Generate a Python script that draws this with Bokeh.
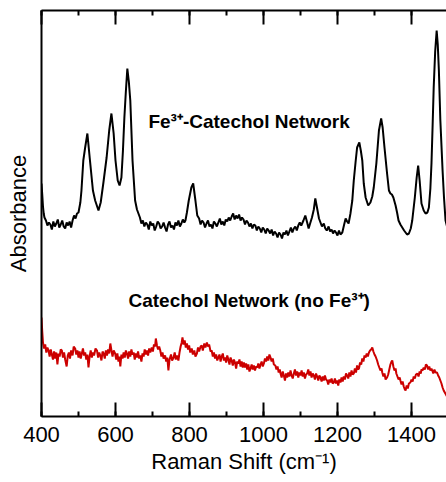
from bokeh.plotting import figure
from bokeh.models import Range1d, LinearAxis, Label, FixedTicker, SingleIntervalTicker
from bokeh.embed import file_html
from bokeh.resources import INLINE

# (Raman shift cm^-1, absorbance a.u.)
fe_points = [
    (400, 233), (402, 222), (404, 210), (406, 203), (408, 199), (412, 196), (416, 191), (420, 194),
    (424, 192), (428, 187), (432, 195), (436, 190), (440, 193), (444, 197), (448, 189), (452, 192),
    (456, 196), (460, 190), (464, 188), (468, 194), (472, 191), (476, 195), (480, 189), (484, 196),
    (488, 201), (492, 198), (496, 203), (500, 204), (505, 214), (508, 226), (513, 256), (518, 269),
    (524, 283), (531, 256), (539, 226), (545, 216), (554, 206), (560, 214), (567, 233), (576, 259),
    (583, 286), (589, 303), (595, 283), (600, 256), (606, 236), (611, 231), (616, 239), (620, 265),
    (624, 299), (628, 325), (632, 348), (636, 335), (640, 316), (646, 256), (653, 216), (658, 207),
    (662, 203), (666, 199), (670, 193), (674, 196), (678, 190), (682, 194), (686, 192), (690, 187),
    (694, 195), (698, 191), (702, 193), (706, 186), (710, 190), (714, 195), (718, 193), (722, 188),
    (726, 190), (730, 194), (734, 189), (738, 185), (742, 192), (746, 195), (750, 189), (754, 191),
    (758, 187), (762, 194), (766, 191), (770, 196), (774, 190), (778, 193), (782, 197), (786, 194),
    (789, 196), (793, 204), (798, 216), (805, 229), (810, 233), (816, 216), (821, 201), (826, 198),
    (830, 192), (834, 196), (838, 194), (842, 189), (846, 193), (850, 196), (854, 190), (858, 192),
    (862, 188), (866, 195), (870, 193), (874, 190), (878, 194), (882, 198), (886, 192), (890, 195),
    (894, 191), (898, 197), (902, 195), (906, 199), (910, 196), (914, 200), (918, 203), (922, 197),
    (926, 201), (930, 198), (934, 202), (938, 196), (942, 199), (946, 197), (950, 192), (954, 196),
    (958, 194), (962, 190), (966, 193), (970, 188), (974, 192), (978, 191), (982, 186), (986, 190),
    (990, 188), (994, 184), (998, 189), (1002, 187), (1006, 183), (1010, 188), (1014, 186),
    (1018, 183), (1022, 187), (1026, 181), (1030, 185), (1034, 183), (1038, 179), (1042, 184),
    (1046, 182), (1050, 178), (1054, 184), (1058, 182), (1062, 186), (1066, 181), (1070, 185),
    (1074, 189), (1078, 184), (1082, 188), (1086, 190), (1090, 186), (1094, 191), (1098, 194),
    (1102, 191), (1108, 196), (1113, 201), (1118, 194), (1122, 188), (1126, 193), (1131, 199),
    (1136, 207), (1140, 218), (1146, 206), (1150, 198), (1154, 194), (1158, 190), (1163, 193),
    (1167, 188), (1171, 186), (1176, 190), (1180, 185), (1184, 187), (1188, 183), (1192, 186),
    (1196, 184), (1200, 181), (1204, 186), (1208, 182), (1213, 184), (1218, 192), (1222, 198),
    (1226, 195), (1230, 193), (1235, 203), (1240, 216), (1244, 236), (1249, 255), (1253, 269),
    (1259, 274), (1263, 266), (1267, 256), (1271, 233), (1276, 219), (1283, 211), (1289, 214),
    (1294, 220), (1298, 229), (1305, 253), (1312, 286), (1318, 298), (1322, 289), (1327, 269),
    (1334, 243), (1339, 226), (1343, 223), (1347, 222), (1351, 219), (1357, 211), (1361, 204),
    (1365, 196), (1370, 192), (1375, 189), (1380, 186), (1384, 184), (1388, 182), (1393, 183),
    (1398, 188), (1402, 196), (1409, 219), (1414, 239), (1418, 251), (1422, 236), (1427, 213),
    (1433, 206), (1438, 203), (1443, 204), (1447, 209), (1451, 228), (1454, 253), (1457, 290),
    (1460, 329), (1464, 365), (1468, 386), (1471, 372), (1474, 346), (1478, 296), (1484, 246),
    (1488, 218), (1492, 196), (1496, 190), (1500, 188),
]

no_fe_points = [
    (400, 99), (402, 85), (404, 74), (407, 68), (410, 72), (413, 64), (416, 69), (419, 66),
    (422, 60), (425, 67), (428, 62), (431, 57), (434, 65), (437, 58), (440, 64), (443, 52),
    (446, 63), (449, 60), (452, 67), (455, 66), (458, 59), (461, 64), (464, 57), (468, 50),
    (471, 61), (474, 64), (477, 58), (480, 66), (484, 61), (487, 70), (491, 68), (494, 62),
    (497, 66), (500, 59), (503, 65), (506, 58), (509, 63), (512, 68), (515, 61), (518, 64),
    (521, 57), (524, 62), (527, 49), (530, 60), (533, 66), (536, 59), (539, 64), (542, 61),
    (546, 68), (550, 66), (553, 59), (556, 64), (559, 61), (562, 56), (565, 65), (568, 63),
    (571, 58), (574, 66), (577, 61), (580, 67), (583, 63), (586, 73), (589, 66), (592, 60),
    (595, 66), (599, 63), (602, 57), (605, 63), (608, 55), (611, 60), (613, 50), (616, 62),
    (619, 58), (622, 64), (625, 59), (628, 66), (631, 63), (634, 58), (637, 65), (640, 60),
    (643, 67), (646, 62), (649, 64), (652, 57), (655, 63), (658, 59), (661, 65), (664, 58),
    (667, 61), (670, 55), (673, 63), (676, 60), (679, 67), (682, 62), (685, 66), (688, 61),
    (691, 68), (694, 64), (698, 69), (701, 65), (704, 72), (707, 70), (709, 78), (712, 71),
    (715, 67), (718, 70), (721, 66), (724, 60), (727, 64), (730, 58), (734, 61), (737, 55),
    (740, 59), (743, 46), (746, 57), (750, 62), (753, 56), (757, 59), (760, 64), (763, 57),
    (766, 61), (770, 56), (773, 64), (776, 70), (779, 74), (781, 79), (784, 72), (787, 76),
    (790, 69), (793, 73), (796, 67), (799, 71), (802, 64), (806, 68), (809, 62), (813, 66),
    (816, 60), (820, 63), (823, 69), (826, 65), (830, 70), (833, 71), (836, 66), (840, 73),
    (843, 69), (847, 74), (850, 70), (853, 72), (857, 65), (860, 66), (863, 60), (866, 64),
    (869, 58), (872, 62), (875, 56), (878, 59), (881, 62), (884, 55), (887, 60), (890, 63),
    (893, 56), (896, 59), (899, 54), (902, 61), (905, 57), (908, 52), (911, 59), (914, 56),
    (917, 51), (920, 57), (923, 54), (926, 48), (929, 55), (932, 53), (935, 57), (938, 50),
    (941, 55), (944, 49), (947, 54), (950, 49), (953, 53), (956, 47), (959, 52), (962, 45),
    (965, 48), (968, 52), (971, 47), (974, 51), (977, 46), (980, 50), (983, 49), (986, 53),
    (989, 48), (992, 52), (995, 55), (998, 50), (1001, 53), (1004, 58), (1007, 55), (1010, 60),
    (1013, 56), (1016, 62), (1019, 59), (1022, 55), (1025, 58), (1028, 52), (1032, 51),
    (1035, 47), (1038, 50), (1041, 44), (1044, 47), (1046, 43), (1049, 39), (1052, 45),
    (1055, 41), (1058, 36), (1061, 43), (1064, 39), (1067, 44), (1070, 40), (1073, 46),
    (1076, 41), (1079, 38), (1082, 43), (1085, 47), (1088, 41), (1091, 45), (1094, 39),
    (1097, 44), (1100, 41), (1103, 46), (1106, 40), (1109, 44), (1112, 38), (1115, 42),
    (1118, 43), (1121, 47), (1124, 41), (1127, 45), (1130, 39), (1133, 43), (1136, 41),
    (1139, 37), (1142, 43), (1145, 40), (1148, 36), (1151, 41), (1154, 39), (1157, 35),
    (1160, 40), (1163, 36), (1166, 41), (1169, 37), (1172, 36), (1175, 32), (1178, 37),
    (1181, 34), (1184, 38), (1187, 33), (1190, 34), (1193, 38), (1196, 33), (1199, 36),
    (1202, 31), (1205, 37), (1208, 34), (1211, 39), (1214, 35), (1217, 40), (1220, 37),
    (1223, 43), (1226, 41), (1229, 38), (1232, 44), (1235, 40), (1238, 46), (1241, 42),
    (1244, 43), (1247, 48), (1250, 44), (1253, 51), (1256, 47), (1258, 48), (1261, 54),
    (1264, 52), (1267, 58), (1270, 55), (1273, 61), (1276, 59), (1279, 63), (1282, 60),
    (1285, 64), (1288, 66), (1291, 67), (1294, 69), (1297, 65), (1300, 62), (1303, 60),
    (1307, 56), (1310, 52), (1313, 49), (1316, 46), (1319, 48), (1321, 44), (1324, 40),
    (1327, 43), (1330, 37), (1334, 39), (1337, 42), (1340, 47), (1343, 52), (1346, 55),
    (1348, 56), (1351, 50), (1354, 46), (1357, 48), (1359, 43), (1362, 40), (1365, 37),
    (1368, 39), (1370, 36), (1373, 32), (1376, 35), (1379, 30), (1382, 27), (1384, 26),
    (1387, 31), (1390, 28), (1393, 33), (1397, 34), (1400, 37), (1403, 35), (1406, 40),
    (1409, 38), (1412, 42), (1416, 43), (1419, 40), (1422, 45), (1425, 43), (1427, 47),
    (1430, 46), (1433, 49), (1436, 47), (1439, 52), (1442, 51), (1445, 47), (1448, 50),
    (1451, 46), (1454, 48), (1456, 46), (1459, 43), (1462, 47), (1465, 44), (1469, 44),
    (1472, 41), (1475, 39), (1478, 36), (1481, 33), (1484, 29), (1487, 26), (1490, 24),
    (1493, 22), (1496, 20), (1500, 18),
]

fe_shift = [pt[0] for pt in fe_points]
fe_abs = [pt[1] for pt in fe_points]
no_fe_shift = [pt[0] for pt in no_fe_points]
no_fe_abs = [pt[1] for pt in no_fe_points]

FONT = "Liberation Sans"

p = figure(width=446, height=482, output_backend="svg", toolbar_location=None,
           x_range=Range1d(400, 1494.6), y_range=Range1d(0, 406),
           min_border_left=41, min_border_right=0, min_border_top=10, min_border_bottom=66)
p.outline_line_color = None
p.xgrid.visible = False
p.ygrid.visible = False
p.background_fill_color = "white"
p.border_fill_color = "white"

xax = p.xaxis[0]
xax.ticker = SingleIntervalTicker(interval=200, num_minor_ticks=2)
xax.axis_label = "Raman Shift (cm⁻¹)"
xax.axis_label_text_font = FONT
xax.axis_label_text_font_style = "normal"
xax.axis_label_text_font_size = "22px"
xax.axis_label_text_color = "black"
xax.axis_label_standoff = 4
xax.major_label_text_font = FONT
xax.major_label_text_font_size = "22px"
xax.major_label_text_color = "black"
xax.major_label_standoff = 10
xax.major_tick_in = 14
xax.major_tick_out = 0
xax.minor_tick_in = 5
xax.minor_tick_out = 0
xax.axis_line_width = 2
xax.major_tick_line_width = 2
xax.minor_tick_line_width = 2

top = LinearAxis(ticker=SingleIntervalTicker(interval=200, num_minor_ticks=2),
                 major_label_text_font_size="1px", major_label_text_color=None,
                 major_label_standoff=0,
                 major_tick_in=14, major_tick_out=0, minor_tick_in=5, minor_tick_out=0,
                 axis_line_width=2, major_tick_line_width=2, minor_tick_line_width=2)
p.add_layout(top, "above")

yax = p.yaxis[0]
yax.ticker = FixedTicker(ticks=[])
yax.major_label_text_font_size = "1px"
yax.major_label_text_color = None
yax.major_tick_in = 0
yax.major_tick_out = 0
yax.minor_tick_in = 0
yax.minor_tick_out = 0
yax.axis_line_width = 2
yax.axis_label = "Absorbance"
yax.axis_label_text_font = FONT
yax.axis_label_text_font_style = "normal"
yax.axis_label_text_font_size = "22px"
yax.axis_label_text_color = "black"
yax.axis_label_standoff = 11

p.line(fe_shift, fe_abs, line_color="black", line_width=2)
p.line(no_fe_shift, no_fe_abs, line_color="#cc0000", line_width=2)

p.add_layout(Label(x=689, y=295, text="Fe³⁺-Catechol Network", text_font=FONT,
                   text_font_style="bold", text_font_size="19px", text_baseline="middle",
                   text_align="left", text_color="black"))
p.add_layout(Label(x=635, y=116, text="Catechol Network (no Fe³⁺)", text_font=FONT,
                   text_font_style="bold", text_font_size="19px", text_baseline="middle",
                   text_align="left", text_color="black"))

open("out.html", "w").write(file_html(p, INLINE))
